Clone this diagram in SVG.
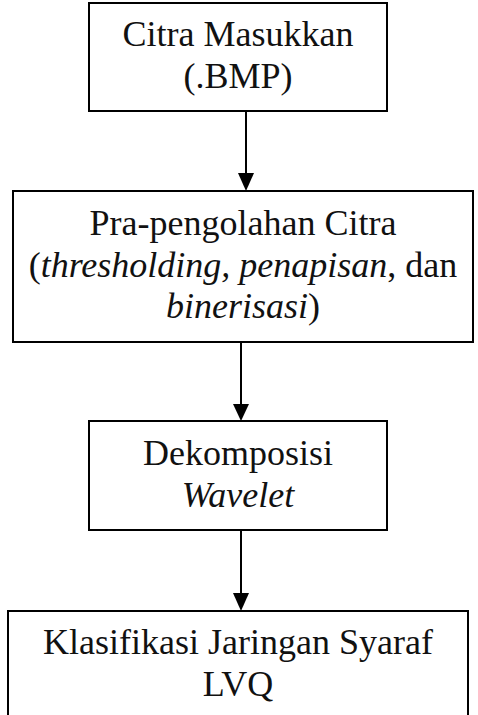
<svg xmlns="http://www.w3.org/2000/svg" width="478" height="715" viewBox="0 0 478 715">
<defs>
<style>
.box{fill:#fff;stroke:#000;stroke-width:2}
.t{font-family:"Liberation Serif","Times New Roman",serif;font-size:36px;fill:#111;text-anchor:middle}
.i{font-style:italic}
.c{stroke:#000;stroke-width:2;fill:none}
.h{fill:#000}
</style>
</defs>
<rect width="478" height="715" fill="#fff"/>
<g id="connectors">
<line class="c" x1="246" y1="111" x2="246" y2="173"/>
<path class="h" d="M238,173 L254,173 L246,191 Z"/>
<line class="c" x1="241" y1="342" x2="241" y2="404"/>
<path class="h" d="M233,404 L249,404 L241,421 Z"/>
<line class="c" x1="241" y1="530" x2="241" y2="593"/>
<path class="h" d="M233,593 L249,593 L241,611 Z"/>
</g>
<g id="n1">
<rect class="box" x="89" y="3" width="298" height="108"/>
<text class="t" x="238" y="46">Citra Masukkan</text>
<text class="t" x="238" y="88">(.BMP)</text>
</g>
<g id="n2">
<rect class="box" x="13" y="191" width="460" height="151"/>
<text class="t" x="243" y="235">Pra-pengolahan Citra</text>
<text class="t" x="243" y="277">(<tspan class="i">thresholding, penapisan</tspan>, dan</text>
<text class="t" x="243" y="318"><tspan class="i">binerisasi</tspan>)</text>
</g>
<g id="n3">
<rect class="box" x="89" y="421" width="298" height="109"/>
<text class="t" x="238" y="465">Dekomposisi</text>
<text class="t i" x="238" y="507">Wavelet</text>
</g>
<g id="n4">
<rect class="box" x="8" y="611" width="460" height="120"/>
<text class="t" x="238" y="654">Klasifikasi Jaringan Syaraf</text>
<text class="t" x="238" y="696">LVQ</text>
</g>
</svg>
